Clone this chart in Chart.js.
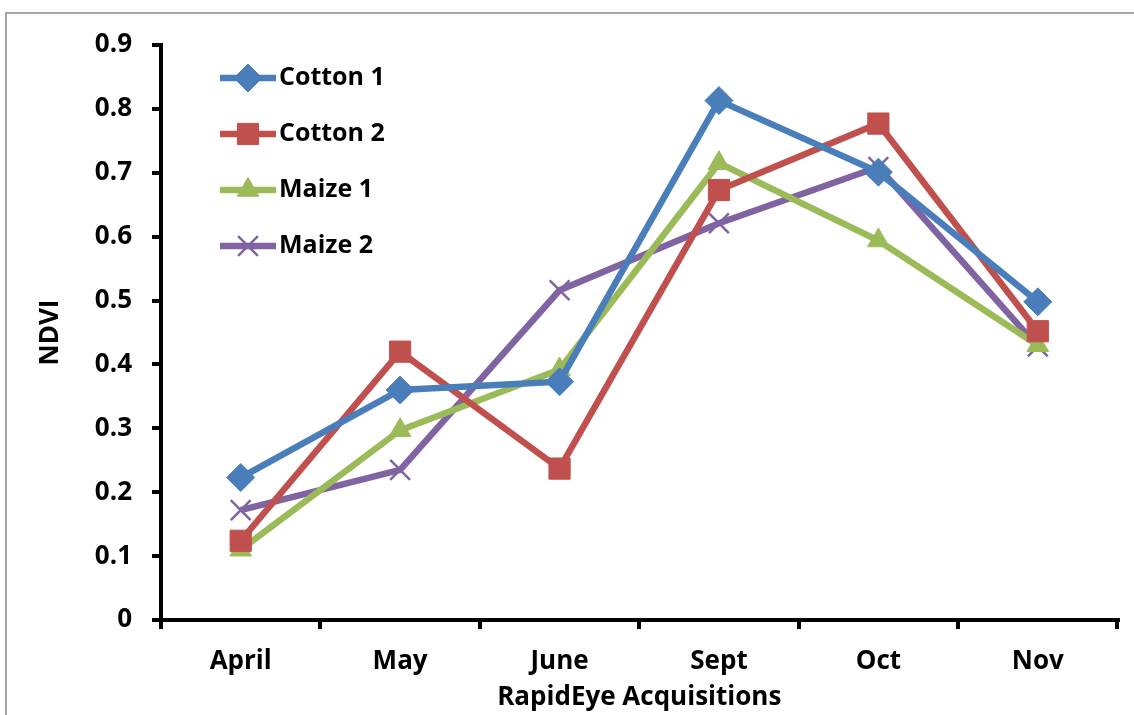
<!DOCTYPE html>
<html>
<head>
<meta charset="utf-8">
<script src="https://cdn.jsdelivr.net/npm/chart.js@4"></script>
<style>
  html, body { margin: 0; padding: 0; background: #fff; }
  #wrap { position: relative; width: 1134px; height: 715px; }
</style>
</head>
<body>
<div id="wrap"><canvas id="ndvi-chart" width="1134" height="715"></canvas></div>
<script>
// Data
var months = ['April', 'May', 'June', 'Sept', 'Oct', 'Nov'];
var cotton1 = [0.223, 0.360, 0.373, 0.813, 0.701, 0.498];
var cotton2 = [0.124, 0.420, 0.237, 0.673, 0.777, 0.452];
var maize1 = [0.110, 0.297, 0.392, 0.715, 0.594, 0.430];
var maize2 = [0.172, 0.235, 0.516, 0.621, 0.709, 0.428];
var yTicks = [0, 0.1, 0.2, 0.3, 0.4, 0.5, 0.6, 0.7, 0.8, 0.9];

var FONT = '"Open Sans", Lato, sans-serif';

function series(label, data, color, style, radius, bw) {
  return {
    label: label,
    data: data,
    borderColor: color,
    backgroundColor: color,
    borderWidth: 6.5,
    pointStyle: style,
    pointRadius: radius,
    pointHoverRadius: radius,
    pointBackgroundColor: color,
    pointBorderColor: color,
    pointBorderWidth: bw,
    tension: 0,
    fill: false
  };
}

// gray frame round the picture
var framePlugin = {
  id: 'frame',
  beforeDraw: function(chart) {
    var ctx = chart.ctx;
    ctx.save();
    ctx.fillStyle = '#fff';
    ctx.fillRect(0, 0, chart.width, chart.height);
    ctx.strokeStyle = '#a6a6a6';
    ctx.lineWidth = 2;
    ctx.strokeRect(6, 13, 2000, 2000);
    ctx.restore();
  }
};

// legend with line + marker, inside the plot
var legendPlugin = {
  id: 'lineLegend',
  afterDraw: function(chart) {
    var ctx = chart.ctx;
    var x0 = 220, x1 = 276, y0 = 78, step = 56;
    ctx.save();
    chart.data.datasets.forEach(function(ds, i) {
      var y = y0 + i * step;
      ctx.strokeStyle = ds.borderColor;
      ctx.lineWidth = 6.5;
      ctx.beginPath();
      ctx.moveTo(x0, y);
      ctx.lineTo(x1, y);
      ctx.stroke();
      ctx.fillStyle = ds.pointBackgroundColor;
      ctx.strokeStyle = ds.pointBorderColor;
      ctx.lineWidth = ds.pointBorderWidth;
      Chart.helpers.drawPoint(ctx, {
        pointStyle: ds.pointStyle,
        radius: ds.pointRadius,
        rotation: 0,
        borderWidth: ds.pointBorderWidth
      }, (x0 + x1) / 2, y);
      ctx.fillStyle = '#000';
      ctx.font = 'bold 25px ' + FONT;
      ctx.textBaseline = 'middle';
      ctx.textAlign = 'left';
      ctx.fillText(ds.label, x1 + 3, y);
    });
    ctx.restore();
  }
};

var ctx = document.getElementById('ndvi-chart').getContext('2d');
var ndviChart = new Chart(ctx, {
  type: 'line',
  data: {
    labels: months,
    datasets: [
      series('Cotton 1', cotton1, '#4a7ebb', 'rectRot', 14, 1),
      series('Cotton 2', cotton2, '#c0504d', 'rect', 15, 1),
      series('Maize 1', maize1, '#9bbb59', 'triangle', 12.5, 1),
      series('Maize 2', maize2, '#8064a2', 'crossRot', 14, 2.5)
    ]
  },
  options: {
    responsive: false,
    animation: false,
    layout: {
      padding: { top: 45, right: 8, left: 35, bottom: 2 }
    },
    scales: {
      x: {
        offset: true,
        grid: {
          offset: true,
          drawOnChartArea: false,
          color: '#000',
          lineWidth: 4,
          tickLength: 9
        },
        border: { color: '#000', width: 4 },
        ticks: {
          color: '#000',
          padding: 17,
          font: { family: FONT, size: 26, weight: 'bold' }
        },
        title: {
          display: true,
          text: 'RapidEye Acquisitions',
          color: '#000',
          padding: { top: 0, bottom: 0 },
          font: { family: FONT, size: 26, weight: 'bold' }
        },
        afterFit: function(scale) { scale.height = 93; }
      },
      y: {
        min: 0,
        max: 0.9,
        afterBuildTicks: function(scale) {
          scale.ticks = yTicks.map(function(v) { return { value: v }; });
        },
        grid: {
          drawOnChartArea: false,
          color: '#000',
          lineWidth: 4,
          tickLength: 9
        },
        border: { color: '#000', width: 4 },
        ticks: {
          color: '#000',
          padding: 20,
          callback: function(v) { return v === 0 ? '0' : v.toFixed(1); },
          font: { family: FONT, size: 26, weight: 'bold' }
        },
        title: {
          display: true,
          text: 'NDVI',
          color: '#000',
          padding: { top: 0, bottom: 0 },
          font: { family: FONT, size: 26, weight: 'bold' }
        },
        afterFit: function(scale) { scale.width = 126; }
      }
    },
    plugins: {
      legend: { display: false },
      tooltip: { enabled: false }
    }
  },
  plugins: [framePlugin, legendPlugin]
});
</script>
</body>
</html>
